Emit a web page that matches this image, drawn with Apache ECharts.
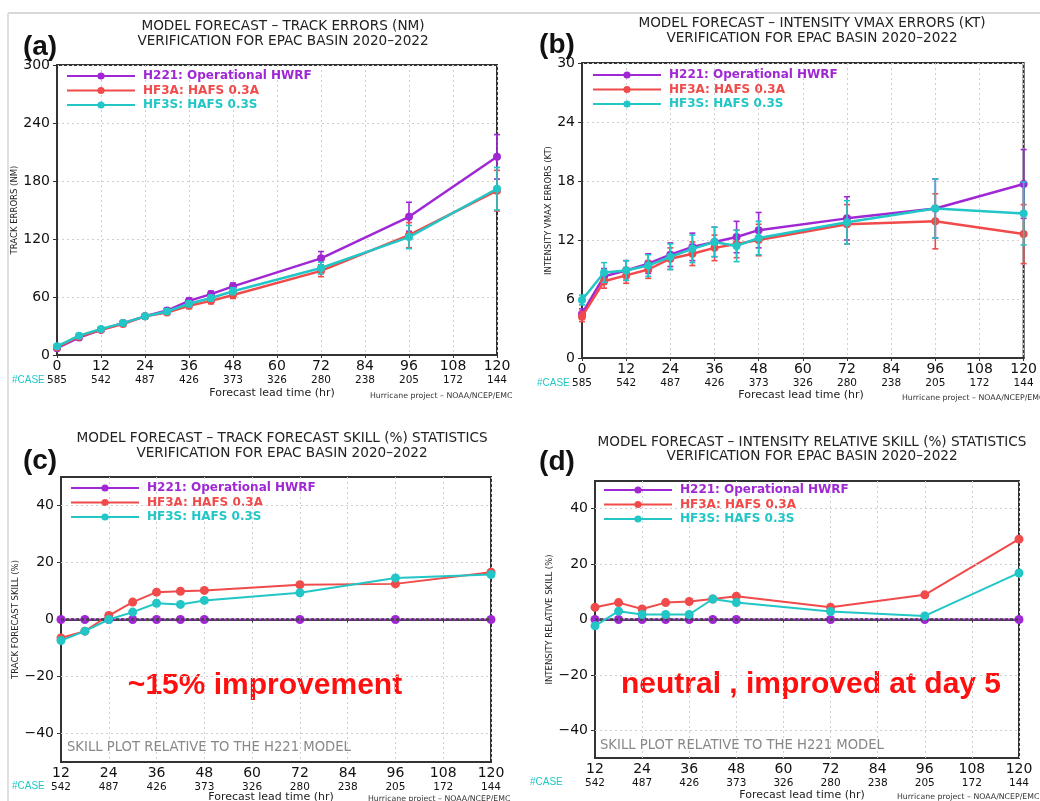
<!DOCTYPE html>
<html><head><meta charset="utf-8">
<script src="https://cdn.jsdelivr.net/npm/echarts@6/dist/echarts.min.js"></script>
<style>html,body{margin:0;padding:0;background:#fff}#c{width:1040px;height:801px}</style>
</head><body><div id="c"></div><script>
// ---------- data ----------
const leadA = [0, 6, 12, 18, 24, 30, 36, 42, 48, 72, 96, 120];
const leadC = [12, 18, 24, 30, 36, 42, 48, 72, 96, 120];
const caseCounts = [585, 542, 487, 426, 373, 326, 280, 238, 205, 172, 144];
const seriesNames = ['H221: Operational HWRF', 'HF3A: HAFS 0.3A', 'HF3S: HAFS 0.3S'];

const trackH221 = [7, 18, 26, 33, 40, 46, 56, 63, 71, 100, 143, 205];
const trackHF3A = [8, 19, 26, 32, 40, 44, 51, 56, 62, 87, 124, 170];
const trackHF3S = [9, 20, 27, 33, 40, 45, 53, 59, 66, 90, 122, 172];
const trackErrH221 = [1.5, 2, 2, 2, 2, 2.5, 3, 3, 3.5, 7, 15, 23];
const trackErrHF3A = [1.5, 2, 2, 2, 2, 2.5, 3, 3, 3.5, 6, 13, 21];
const trackErrHF3S = [1.5, 2, 2, 2, 2, 2.5, 3, 3, 3.5, 6, 12, 22];

const vmaxH221 = [4.5, 8.3, 8.9, 9.6, 10.5, 11.3, 11.8, 12.3, 13.0, 14.2, 15.2, 17.7];
const vmaxHF3A = [4.2, 7.8, 8.4, 9.0, 10.1, 10.6, 11.2, 11.6, 12.0, 13.6, 13.9, 12.6];
const vmaxHF3S = [5.9, 8.7, 8.9, 9.4, 10.3, 11.1, 11.8, 11.4, 12.2, 13.8, 15.2, 14.7];
const vmaxErrH221 = [0.5, 0.8, 1.0, 1.0, 1.2, 1.4, 1.5, 1.6, 1.8, 2.2, 3.0, 3.5];
const vmaxErrHF3A = [0.5, 0.7, 0.8, 0.9, 1.1, 1.2, 1.3, 1.4, 1.6, 2.0, 2.8, 3.0];
const vmaxErrHF3S = [0.5, 1.0, 1.0, 1.1, 1.3, 1.4, 1.5, 1.6, 1.7, 2.2, 3.0, 3.2];

const trackSkillH221 = [0, 0, 0, 0, 0, 0, 0, 0, 0, 0];
const trackSkillHF3A = [-6.5, -4.1, 1.4, 6.1, 9.6, 9.9, 10.2, 12.2, 12.5, 16.6];
const trackSkillHF3S = [-7.4, -4.1, 0, 2.6, 5.7, 5.3, 6.7, 9.4, 14.6, 15.8];

const intSkillH221 = [0, 0, 0, 0, 0, 0, 0, 0, 0, 0];
const intSkillHF3A = [4.4, 6.1, 3.8, 6.1, 6.5, 7.4, 8.4, 4.4, 8.9, 29];
const intSkillHF3S = [-2.3, 3.0, 1.8, 1.8, 1.8, 7.4, 6.1, 2.9, 1.3, 16.8];

const skillGridValues = [-40, -20, 20, 40];
const skillLabelValues = [-40, -20, 0, 20, 40];

// ---------- style ----------
const COLORS = ['#a028d4', '#f04a4a', '#22c6c6'];
const FONT = 'DejaVu Sans';
const AXIS_COLOR = '#333';

function pair(xs, ys) { return xs.map((x, i) => [x, ys[i]]); }
function errData(xs, ys, es) { return xs.map((x, i) => [x, ys[i] - es[i], ys[i] + es[i]]); }

function errRender(color) {
  return function (params, api) {
    const x = api.value(0), lo = api.value(1), hi = api.value(2);
    const p1 = api.coord([x, lo]), p2 = api.coord([x, hi]);
    const w = 3, st = { stroke: color, lineWidth: 1.6 };
    return { type: 'group', children: [
      { type: 'line', shape: { x1: p1[0], y1: p1[1], x2: p2[0], y2: p2[1] }, style: st },
      { type: 'line', shape: { x1: p1[0] - w, y1: p1[1], x2: p1[0] + w, y2: p1[1] }, style: st },
      { type: 'line', shape: { x1: p2[0] - w, y1: p2[1], x2: p2[0] + w, y2: p2[1] }, style: st }
    ]};
  };
}

const grids = [
  { left: 57, top: 65, width: 440, height: 290 },
  { left: 582, top: 63, width: 448, height: 295 },
  { left: 61, top: 477, width: 430, height: 285 },
  { left: 595, top: 481, width: 424, height: 277 }
].map(g => Object.assign(g, { show: true, borderColor: AXIS_COLOR, borderWidth: 2, containLabel: false }));

function xAxis(gi, min) {
  return {
    type: 'value', gridIndex: gi, min: min, max: 120, interval: 12,
    axisLine: { show: true, lineStyle: { color: AXIS_COLOR, width: 2 } },
    axisTick: { show: true, length: 3, lineStyle: { color: AXIS_COLOR } },
    splitLine: { show: true, lineStyle: { color: '#cfcfcf', type: [2, 3], width: 1 } },
    axisLabel: {
      margin: 4, interval: 0,
      formatter: v => '{t|' + v + '}\n{c|' + caseCounts[v / 12] + '}',
      rich: {
        t: { fontSize: 14, fontFamily: FONT, color: '#111', lineHeight: 15 },
        c: { fontSize: 10.5, fontFamily: FONT, color: '#111', lineHeight: 13 }
      }
    }
  };
}
function yAxis(gi, min, max, interval, name, gap, skill) {
  const ax = {
    type: 'value', gridIndex: gi, min: min, max: max, interval: interval,
    name: name, nameLocation: 'middle', nameGap: gap,
    nameTextStyle: { fontSize: 8.5, fontFamily: FONT, color: '#222' },
    axisLine: { show: true, lineStyle: { color: AXIS_COLOR, width: 2 } },
    axisTick: { show: true, length: 4, lineStyle: { color: AXIS_COLOR } },
    splitLine: { show: !skill, lineStyle: { color: '#cfcfcf', type: [2, 3], width: 1 } },
    axisLabel: { margin: 7, fontSize: 14, fontFamily: FONT, color: '#111',
      formatter: v => String(v).replace('-', '\u2212') }
  };
  if (skill) {
    ax.axisLabel.customValues = skillLabelValues;
    ax.axisTick.customValues = skillLabelValues;
    ax.axisLabel.formatter = v => (v % 20 === 0 && Math.abs(v) < 50) ? String(v).replace('-', '\u2212') : '';
  }
  return ax;
}

function lineSeries(gi, ni, xs, ys, symSize, width) {
  return {
    type: 'line', name: seriesNames[ni], xAxisIndex: gi, yAxisIndex: gi,
    data: pair(xs, ys), symbol: 'circle', symbolSize: symSize, showSymbol: true,
    lineStyle: { color: COLORS[ni], width: width }, itemStyle: { color: COLORS[ni] },
    z: 3 + ni, animation: false
  };
}
function errSeries(gi, ni, xs, ys, es) {
  return {
    type: 'custom', name: 'err' + gi + ni, xAxisIndex: gi, yAxisIndex: gi,
    data: errData(xs, ys, es), encode: { x: 0, y: [1, 2] },
    renderItem: errRender(COLORS[ni]), z: 3 + ni, animation: false, silent: true
  };
}

const series = [];
// (a)
[[trackH221, trackErrH221], [trackHF3A, trackErrHF3A], [trackHF3S, trackErrHF3S]].forEach((d, i) => {
  series.push(errSeries(0, i, leadA, d[0], d[1]));
  series.push(lineSeries(0, i, leadA, d[0], 8, 2.5));
});
// (b)
[[vmaxH221, vmaxErrH221], [vmaxHF3A, vmaxErrHF3A], [vmaxHF3S, vmaxErrHF3S]].forEach((d, i) => {
  series.push(errSeries(1, i, leadA, d[0], d[1]));
  series.push(lineSeries(1, i, leadA, d[0], 8, 2.5));
});
// (c), (d)
[[2, [trackSkillH221, trackSkillHF3A, trackSkillHF3S]], [3, [intSkillH221, intSkillHF3A, intSkillHF3S]]].forEach(([gi, arr]) => {
  arr.forEach((ys, i) => series.push(lineSeries(gi, i, leadC, ys, 9, 2)));
  series.push({
    type: 'line', xAxisIndex: gi, yAxisIndex: gi, data: [], silent: true, z: 2,
    markLine: { silent: true, symbol: 'none', label: { show: false }, animation: false,
      lineStyle: { color: '#cfcfcf', type: [2, 3], width: 1 },
      data: skillGridValues.map(v => ({ yAxis: v })) }
  });
  series.push({
    type: 'line', xAxisIndex: gi, yAxisIndex: gi, data: [], silent: true, z: 3,
    markLine: { silent: true, symbol: 'none', label: { show: false }, animation: false,
      lineStyle: { color: '#444', type: [3, 2], width: 2.5 },
      data: [{ yAxis: 0 }] }
  });
});

function legend(left, top) {
  return {
    left: left, top: top, orient: 'vertical', padding: 0, itemGap: 1.5,
    itemWidth: 68, itemHeight: 9, selectedMode: false,
    data: seriesNames.map((n, i) => ({ name: n, textStyle: { color: COLORS[i] } })),
    textStyle: { fontSize: 12, fontFamily: FONT, fontWeight: 'bold', lineHeight: 13, padding: [0, 0, 0, 3] }
  };
}

function txt(x, y, s, style) {
  return { type: 'text', x: x, y: y, style: Object.assign({ text: s, fontFamily: FONT, fill: '#222',
    textAlign: 'center', textVerticalAlign: 'middle' }, style) };
}
const titleStyle = { fontSize: 13.6, fill: '#222' };
const letterStyle = { fontSize: 28, fontWeight: 'bold', fontFamily: 'Liberation Sans', fill: '#111' };
const caseStyle = { fontSize: 10, fill: '#22c6c6', textAlign: 'left', fontFamily: 'Liberation Sans Narrow, Liberation Sans' };
const flStyle = { fontSize: 11, fill: '#222' };
const hpStyle = { fontSize: 7.8, fill: '#333', textAlign: 'left' };
const skillStyle = { fontSize: 13.2, fill: '#888', textAlign: 'left' };
const annStyle = { fontSize: 30, fontWeight: 'bold', fontFamily: 'Liberation Sans', fill: '#ff1010' };

const graphic = [
  { type: 'line', shape: { x1: 8, y1: 13, x2: 1040, y2: 13 }, style: { stroke: '#d8d8d8', lineWidth: 2 } },
  { type: 'line', shape: { x1: 8, y1: 13, x2: 8, y2: 801 }, style: { stroke: '#e0e0e0', lineWidth: 2 } },
  // (a)
  txt(283, 26, 'MODEL FORECAST \u2013 TRACK ERRORS (NM)', titleStyle),
  txt(283, 41, 'VERIFICATION FOR EPAC BASIN 2020\u20132022', titleStyle),
  txt(40, 47, '(a)', letterStyle),
  txt(12, 380, '#CASE', caseStyle),
  txt(272, 393, 'Forecast lead time (hr)', flStyle),
  txt(370, 396, 'Hurricane project \u2013 NOAA/NCEP/EMC', hpStyle),
  // (b)
  txt(812, 23, 'MODEL FORECAST \u2013 INTENSITY VMAX ERRORS (KT)', titleStyle),
  txt(812, 38, 'VERIFICATION FOR EPAC BASIN 2020\u20132022', titleStyle),
  txt(557, 45, '(b)', letterStyle),
  txt(537, 383, '#CASE', caseStyle),
  txt(801, 395, 'Forecast lead time (hr)', flStyle),
  txt(902, 398, 'Hurricane project \u2013 NOAA/NCEP/EMC', hpStyle),
  // (c)
  txt(282, 438, 'MODEL FORECAST \u2013 TRACK FORECAST SKILL (%) STATISTICS', titleStyle),
  txt(282, 453, 'VERIFICATION FOR EPAC BASIN 2020\u20132022', titleStyle),
  txt(40, 461, '(c)', letterStyle),
  txt(12, 786, '#CASE', caseStyle),
  txt(271, 797, 'Forecast lead time (hr)', flStyle),
  txt(368, 799, 'Hurricane project \u2013 NOAA/NCEP/EMC', hpStyle),
  txt(67, 748, 'SKILL PLOT RELATIVE TO THE H221 MODEL', skillStyle),
  txt(265, 686, '~15% improvement', annStyle),
  // (d)
  txt(812, 442, 'MODEL FORECAST \u2013 INTENSITY RELATIVE SKILL (%) STATISTICS', titleStyle),
  txt(812, 456, 'VERIFICATION FOR EPAC BASIN 2020\u20132022', titleStyle),
  txt(557, 462, '(d)', letterStyle),
  txt(530, 782, '#CASE', caseStyle),
  txt(802, 795, 'Forecast lead time (hr)', flStyle),
  txt(897, 797, 'Hurricane project \u2013 NOAA/NCEP/EMC', hpStyle),
  txt(600, 746, 'SKILL PLOT RELATIVE TO THE H221 MODEL', skillStyle),
  txt(811, 685, 'neutral , improved at day 5', annStyle)
];

const option = {
  animation: false,
  backgroundColor: '#fff',
  grid: grids,
  xAxis: [xAxis(0, 0), xAxis(1, 0), xAxis(2, 12), xAxis(3, 12)],
  yAxis: [
    yAxis(0, 0, 300, 60, 'TRACK ERRORS (NM)', 29, false),
    yAxis(1, 0, 30, 6, 'INTENSITY VMAX ERRORS (KT)', 29, false),
    yAxis(2, -50, 50, 10, 'TRACK FORECAST SKILL (%)', 29, true),
    yAxis(3, -50, 50, 10, 'INTENSITY RELATIVE SKILL (%)', 28, true)
  ],
  legend: [legend(66, 69.5), legend(592, 68.5), legend(70, 481.5), legend(603, 483.5)],
  series: series,
  graphic: graphic
};
const chart = echarts.init(document.getElementById('c'), null, { renderer: 'canvas' });
chart.setOption(option);
</script></body></html>
